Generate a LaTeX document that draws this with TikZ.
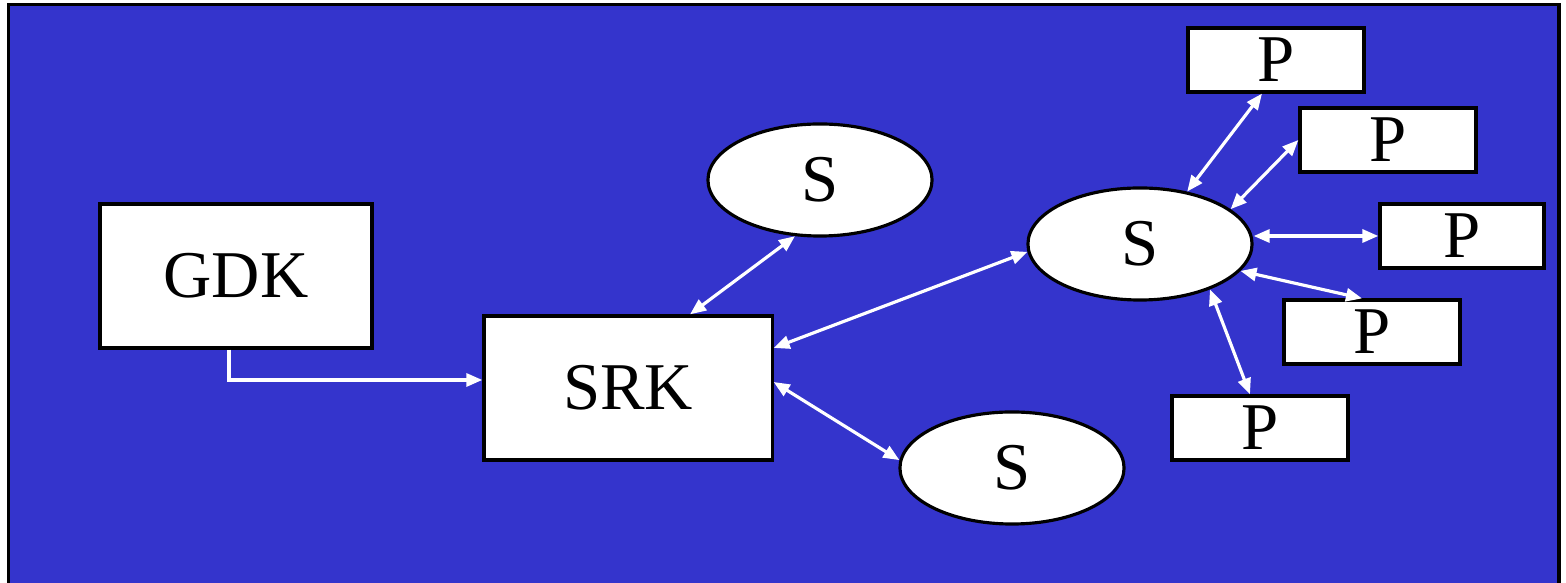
\documentclass[tikz,border=0pt]{standalone}
\usepackage{fontspec}
\setmainfont{Liberation Serif}
\usepackage{tikz}
\usetikzlibrary{arrows.meta, shapes.geometric}
\definecolor{slideblue}{RGB}{52,52,204}

\begin{document}
\begin{tikzpicture}[
            x = 0.01cm, y = -0.01cm, % one unit per pixel, y runs down
            > = {Triangle[length=0.16cm, width=0.13cm]}, % arrow head style
            font = \fontsize{19}{19}\selectfont,
            link/.style = {draw = white, line width = 0.9pt},
            box/.style = {
                draw = black,
                line width = 0.9pt,
                fill = white,
                rectangle,
                inner sep = 0pt
            },
            blob/.style = {
                box,
                ellipse,
                minimum width = 2.24cm,
                minimum height = 1.12cm
            },
            port/.style = {box, minimum width = 1.76cm, minimum height = 0.64cm}
        ]

        % slide background
        \clip (0,0) rectangle (1566,583);
        \draw[fill = slideblue, line width = 1.1pt] (8.5,4.5) rectangle (1559,620);

        \node[box, minimum width = 2.72cm, minimum height = 1.44cm] (gdk) at (236,276) {GDK};
        \node[box, minimum width = 2.88cm, minimum height = 1.44cm] (srk) at (628,388) {SRK};

        \node[blob] (stop) at (820,180) {S};
        \node[blob] (smid) at (1140,244) {S};
        \node[blob] (sbot) at (1012,468) {S};

        \node[port] (pa) at (1276,60) {P};
        \node[port] (pb) at (1388,140) {P};
        \node[port, minimum width = 1.64cm] (pc) at (1462,236) {P};
        \node[port] (pd) at (1372,332) {P};
        \node[port] (pe) at (1260,428) {P};

        \draw[link, ->] ([xshift=-0.07cm]gdk.south) |- ([yshift=0.08cm]srk.west);

        \draw[link, <->] ([xshift=0.62cm]srk.north) -- (stop.246);
        \draw[link, <->] ([yshift=0.4cm]srk.east) -- (smid.184);
        \draw[link, <->] ([yshift=0.06cm]srk.east) -- (sbot.176);

        \draw[link, <->] (smid.48) -- ([xshift=-0.14cm]pa.south);
        \draw[link, <->] (smid.21) -- (pb.west);
        \draw[link, <->] (smid.east |- pc.west) -- (pc.west);
        \draw[link, <->] (smid.-15) -- ([xshift=-0.1cm]pd.north);
        \draw[link, <->] (smid.-33) -- ([xshift=-0.1cm]pe.north);

\end{tikzpicture}
\end{document}
